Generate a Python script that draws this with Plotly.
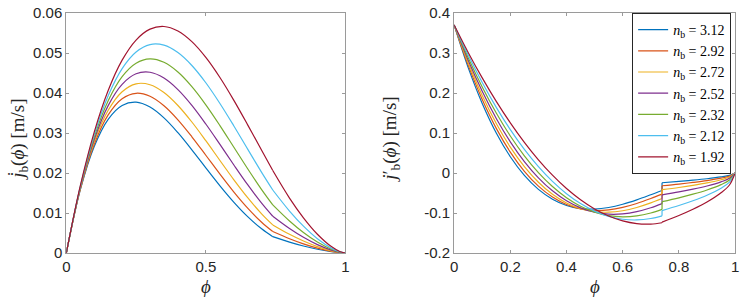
import plotly.graph_objects as go

# ---------------- data ----------------
n_b_values = ["3.12", "2.92", "2.72", "2.52", "2.32", "2.12", "1.92"]
colors = ["#0072BD", "#D95319", "#EDB120", "#7E2F8E", "#77AC30", "#4DBEEE", "#A2142F"]

phi_left = [0, 0.05, 0.1, 0.15, 0.2, 0.25, 0.3, 0.35, 0.4, 0.45, 0.5, 0.55, 0.6, 0.65,
            0.7, 0.74, 0.8, 0.85, 0.9, 0.95, 0.98, 1.0]
phi_kink = 0.74

jb_312 = [0, 0.01576, 0.02663, 0.03343, 0.03689, 0.03770, 0.03648, 0.03377, 0.03007, 0.02578, 0.02128,
          0.01685, 0.01273, 0.00909, 0.00605, 0.00409, 0.00273, 0.00175, 0.00093, 0.00032, 0.00008, 0]
jb_292 = [0, 0.01593, 0.02720, 0.03453, 0.03857, 0.03993, 0.03918, 0.03681, 0.03330, 0.02906, 0.02444,
          0.01977, 0.01529, 0.01122, 0.00770, 0.00536, 0.00357, 0.00229, 0.00122, 0.00042, 0.00010, 0]
jb_272 = [0, 0.01609, 0.02778, 0.03567, 0.04033, 0.04230, 0.04207, 0.04012, 0.03688, 0.03275, 0.02808,
          0.02319, 0.01836, 0.01384, 0.00980, 0.00702, 0.00467, 0.00299, 0.00160, 0.00055, 0.00013, 0]
jb_252 = [0, 0.01626, 0.02837, 0.03685, 0.04217, 0.04480, 0.04518, 0.04373, 0.04085, 0.03691, 0.03225,
          0.02721, 0.02206, 0.01707, 0.01246, 0.00919, 0.00612, 0.00392, 0.00209, 0.00071, 0.00017, 0]
jb_232 = [0, 0.01642, 0.02898, 0.03807, 0.04410, 0.04746, 0.04852, 0.04767, 0.04525, 0.04160, 0.03705,
          0.03192, 0.02649, 0.02106, 0.01586, 0.01203, 0.00801, 0.00513, 0.00274, 0.00093, 0.00023, 0]
jb_212 = [0, 0.01659, 0.02959, 0.03932, 0.04611, 0.05027, 0.05211, 0.05196, 0.05011, 0.04688, 0.04256,
          0.03744, 0.03182, 0.02597, 0.02017, 0.01575, 0.01049, 0.00671, 0.00358, 0.00122, 0.00030, 0]
jb_192 = [0, 0.01677, 0.03022, 0.04062, 0.04821, 0.05324, 0.05596, 0.05663, 0.05550, 0.05283, 0.04889,
          0.04393, 0.03822, 0.03204, 0.02567, 0.02061, 0.01373, 0.00879, 0.00469, 0.00160, 0.00039, 0]

phi_pre = [0, 0.05, 0.1, 0.15, 0.2, 0.25, 0.3, 0.35, 0.4, 0.45, 0.5, 0.55, 0.6, 0.65, 0.7, 0.74]
phi_post = [0.74, 0.8, 0.85, 0.9, 0.95, 0.98, 1.0]

djb_pre_312 = [0.37, 0.2635, 0.1740, 0.1001, 0.0406, -0.0060, -0.0410, -0.0656, -0.0812, -0.0890, -0.0902,
               -0.0862, -0.0781, -0.0671, -0.0543, -0.0436]
djb_pre_292 = [0.37, 0.2696, 0.1838, 0.1116, 0.0521, 0.0043, -0.0328, -0.0602, -0.0788, -0.0897, -0.0939,
               -0.0923, -0.0861, -0.0763, -0.0639, -0.0529]
djb_pre_272 = [0.37, 0.2757, 0.1938, 0.1237, 0.0645, 0.0158, -0.0232, -0.0533, -0.0750, -0.0892, -0.0966,
               -0.0980, -0.0943, -0.0862, -0.0748, -0.0639]
djb_pre_252 = [0.37, 0.2820, 0.2043, 0.1364, 0.0780, 0.0287, -0.0120, -0.0446, -0.0694, -0.0871, -0.0980,
               -0.1029, -0.1022, -0.0966, -0.0869, -0.0766]
djb_pre_232 = [0.37, 0.2884, 0.2151, 0.1499, 0.0926, 0.0430, 0.0009, -0.0339, -0.0618, -0.0830, -0.0978,
               -0.1065, -0.1095, -0.1072, -0.1000, -0.0911]
djb_pre_212 = [0.37, 0.2948, 0.2262, 0.1641, 0.1084, 0.0590, 0.0159, -0.0210, -0.0518, -0.0765, -0.0953,
               -0.1083, -0.1156, -0.1174, -0.1137, -0.1071]
djb_pre_192 = [0.37, 0.3014, 0.2378, 0.1791, 0.1254, 0.0767, 0.0330, -0.0055, -0.0389, -0.0670, -0.0900,
               -0.1076, -0.1198, -0.1265, -0.1276, -0.1244]

djb_post_312 = [-0.0244, -0.0211, -0.0180, -0.0144, -0.0099, -0.0060, 0]
djb_post_292 = [-0.0319, -0.0277, -0.0236, -0.0189, -0.0129, -0.0078, 0]
djb_post_272 = [-0.0418, -0.0362, -0.0309, -0.0247, -0.0169, -0.0102, 0]
djb_post_252 = [-0.0548, -0.0474, -0.0405, -0.0324, -0.0221, -0.0134, 0]
djb_post_232 = [-0.0717, -0.0621, -0.0530, -0.0424, -0.0290, -0.0175, 0]
djb_post_212 = [-0.0939, -0.0813, -0.0694, -0.0555, -0.0379, -0.0229, 0]
djb_post_192 = [-0.1229, -0.1064, -0.0908, -0.0727, -0.0496, -0.0300, 0]

left_xticks = [0, 0.5, 1]
left_xticktext = ["0", "0.5", "1"]
left_yticks = [0, 0.01, 0.02, 0.03, 0.04, 0.05, 0.06]
left_yticktext = ["0", "0.01", "0.02", "0.03", "0.04", "0.05", "0.06"]
right_xticks = [0, 0.2, 0.4, 0.6, 0.8, 1]
right_xticktext = ["0", "0.2", "0.4", "0.6", "0.8", "1"]
right_yticks = [-0.2, -0.1, 0, 0.1, 0.2, 0.3, 0.4]
right_yticktext = ["-0.2", "-0.1", "0", "0.1", "0.2", "0.3", "0.4"]

jb_all = [jb_312, jb_292, jb_272, jb_252, jb_232, jb_212, jb_192]
pre_all = [djb_pre_312, djb_pre_292, djb_pre_272, djb_pre_252, djb_pre_232, djb_pre_212, djb_pre_192]
post_all = [djb_post_312, djb_post_292, djb_post_272, djb_post_252, djb_post_232, djb_post_212, djb_post_192]

# ---------------- figure ----------------
W, H = 747, 301
fig = go.Figure()
LW = 1.2
k = phi_left.index(phi_kink)

for i, nb in enumerate(n_b_values):
    c = colors[i]
    name = f"<i>n</i><sub>b</sub> = {nb}"
    # left panel
    fig.add_trace(go.Scatter(x=phi_left[:k + 1], y=jb_all[i][:k + 1], mode="lines",
                             line=dict(color=c, width=LW, shape="spline"),
                             xaxis="x", yaxis="y", showlegend=False, hoverinfo="skip"))
    fig.add_trace(go.Scatter(x=phi_left[k:], y=jb_all[i][k:], mode="lines",
                             line=dict(color=c, width=LW, shape="spline"),
                             xaxis="x", yaxis="y", showlegend=False, hoverinfo="skip"))
    # right panel
    fig.add_trace(go.Scatter(x=phi_pre, y=pre_all[i], mode="lines", name=name,
                             line=dict(color=c, width=LW, shape="spline"),
                             xaxis="x2", yaxis="y2", showlegend=True, legendgroup=nb))
    fig.add_trace(go.Scatter(x=[phi_pre[-1], phi_post[0]], y=[pre_all[i][-1], post_all[i][0]],
                             mode="lines", line=dict(color=c, width=LW),
                             xaxis="x2", yaxis="y2", showlegend=False, legendgroup=nb,
                             hoverinfo="skip"))
    fig.add_trace(go.Scatter(x=phi_post, y=post_all[i], mode="lines",
                             line=dict(color=c, width=LW, shape="spline"),
                             xaxis="x2", yaxis="y2", showlegend=False, legendgroup=nb,
                             hoverinfo="skip"))

tickfont = dict(family="Liberation Sans, Arial, sans-serif", size=15, color="#262626")
axis_common = dict(showline=True, linecolor="#9a9a9a", linewidth=1, mirror="ticks",
                   ticks="inside", ticklen=3, tickcolor="#9a9a9a", tickwidth=1,
                   showgrid=False, zeroline=False, tickfont=tickfont, tickmode="array",
                   ticklabeloverflow="allow")

ML, MR, MT, MB = 0, 0, 13, 48
fig.update_layout(
    width=W, height=H,
    margin=dict(l=ML, r=MR, t=MT, b=MB),
    paper_bgcolor="white", plot_bgcolor="white",
    xaxis=dict(domain=[63 / W, 345 / W], range=[0, 1], tickvals=left_xticks,
               ticktext=left_xticktext, anchor="y", **axis_common),
    yaxis=dict(domain=[0, 1], range=[0, 0.06], tickvals=left_yticks,
               ticktext=left_yticktext, anchor="x", **axis_common),
    xaxis2=dict(domain=[455 / W, 739 / W], range=[0, 1], tickvals=right_xticks,
                ticktext=right_xticktext, anchor="y2", **axis_common),
    yaxis2=dict(domain=[0, 1], range=[-0.2, 0.4], tickvals=right_yticks,
                ticktext=right_yticktext, anchor="x2", **axis_common),
    legend=dict(x=735 / W, y=1.0, xanchor="right", yanchor="top",
                bgcolor="white", bordercolor="#262626", borderwidth=1,
                font=dict(family="Liberation Serif, DejaVu Serif, serif", size=14, color="#000"),
                itemwidth=30, tracegroupgap=0),
    showlegend=True,
)

labfont = dict(family="Liberation Serif, DejaVu Serif, serif", size=19, color="#262626")
fig.add_annotation(text="<i>ϕ</i>", x=(63 + 345) / 2 / W, y=(253 - 286) / 240,
                   xref="paper", yref="paper", showarrow=False, font=labfont,
                   xanchor="center", yanchor="middle")
fig.add_annotation(text="<i>ϕ</i>", x=(455 + 739) / 2 / W, y=(253 - 286) / 240,
                   xref="paper", yref="paper", showarrow=False, font=labfont,
                   xanchor="center", yanchor="middle")
fig.add_annotation(text="<i>j̇</i><sub>b</sub>(<i>ϕ</i>) [m/s]", x=15 / W, y=(253 - 140) / 240,
                   xref="paper", yref="paper", showarrow=False, font=labfont, textangle=-90,
                   xanchor="center", yanchor="middle")
fig.add_annotation(text="<i>j</i>′<sub>b</sub>(<i>ϕ</i>) [m/s]", x=391 / W, y=(253 - 140) / 240,
                   xref="paper", yref="paper", showarrow=False, font=labfont, textangle=-90,
                   xanchor="center", yanchor="middle")

fig.write_html("out.html", config={"displayModeBar": False},
               post_script="document.body.style.margin='0';document.body.style.padding='0';"
                           "document.documentElement.style.overflow='hidden';")
